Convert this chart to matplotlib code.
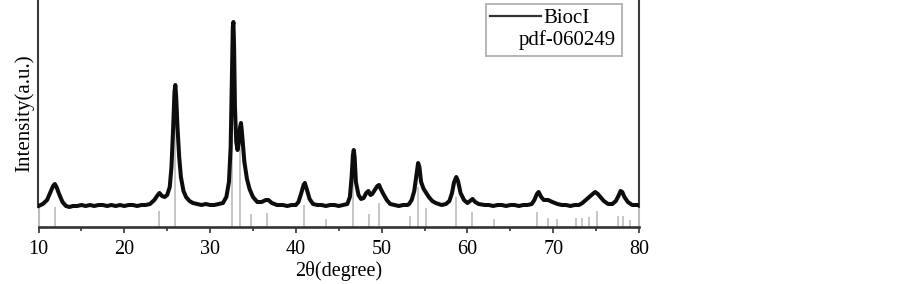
import matplotlib
matplotlib.use('Agg')
import matplotlib.pyplot as plt
from matplotlib.lines import Line2D
from matplotlib.patches import Rectangle

# ---- data (arbitrary intensity units) ----
two_theta = [10.0, 10.5, 11.0, 11.4, 11.7, 11.9, 12.1, 12.4, 12.8, 13.2, 13.6,
             14.0, 14.5, 15.0, 15.5, 16.0, 16.5, 17.0, 17.5, 18.0, 18.5, 19.0,
             19.5, 20.0, 20.5, 21.0, 21.5, 22.0, 22.5, 23.0, 23.5, 23.9, 24.1,
             24.4, 24.7, 25.0, 25.3, 25.5, 25.7, 25.85, 25.95, 26.05, 26.2, 26.4,
             26.6, 26.9, 27.2, 27.6, 28.0, 28.5, 29.0, 29.5, 30.0, 30.5, 31.0,
             31.5, 31.9, 32.2, 32.4, 32.55, 32.65, 32.72, 32.8, 32.9, 33.05,
             33.2, 33.35, 33.5, 33.6, 33.7, 33.85, 34.0, 34.3, 34.6, 35.0, 35.5,
             36.0, 36.5, 36.8, 37.2, 37.8, 38.5, 39.0, 39.5, 40.0, 40.3, 40.6,
             40.9, 41.05, 41.3, 41.6, 42.0, 42.5, 43.0, 43.5, 44.0, 44.5, 45.0,
             45.5, 46.0, 46.3, 46.5, 46.65, 46.75, 46.85, 47.0, 47.3, 47.6, 47.9,
             48.2, 48.45, 48.7, 48.9, 49.2, 49.5, 49.7, 49.9, 50.2, 50.6, 51.0,
             51.5, 52.0, 52.5, 53.0, 53.2, 53.5, 53.8, 54.05, 54.25, 54.4, 54.6,
             54.9, 55.2, 55.5, 55.9, 56.3, 57.0, 57.5, 57.9, 58.2, 58.45, 58.7,
             58.9, 59.2, 59.6, 60.0, 60.3, 60.6, 60.9, 61.3, 62.0, 62.5, 63.0,
             63.5, 64.0, 64.5, 65.0, 65.5, 66.0, 66.5, 67.0, 67.5, 67.8, 68.1,
             68.3, 68.6, 68.9, 69.4, 69.9, 70.5, 71.0, 71.5, 72.0, 72.5, 73.0,
             73.4, 73.8, 74.2, 74.6, 74.9, 75.2, 75.5, 75.9, 76.4, 76.9, 77.3,
             77.6, 77.85, 78.05, 78.3, 78.7, 79.2, 79.6, 80.0]
intensity = [21, 23, 27, 35, 41, 43, 40, 33, 25, 21, 20,
             21, 21, 22, 21, 22, 21, 22, 22, 21, 22, 21,
             22, 21, 22, 22, 21, 22, 22, 23, 27, 32, 34,
             31, 30, 32, 40, 60, 100, 135, 142, 130, 100, 70,
             50, 36, 30, 26, 24, 23, 22, 23, 22, 22, 23,
             24, 30, 45, 80, 150, 200, 205, 180, 120, 85,
             77, 85, 100, 104, 96, 80, 65, 48, 38, 30, 25,
             25, 27, 27, 24, 22, 22, 21, 22, 22, 25, 33,
             42, 44, 37, 28, 23, 22, 22, 21, 22, 22, 21,
             22, 23, 30, 50, 72, 77, 70, 45, 32, 28, 29,
             34, 36, 32, 33, 37, 41, 42, 38, 33, 27, 23,
             22, 21, 22, 22, 23, 27, 36, 52, 64, 60, 45,
             38, 34, 30, 26, 24, 22, 23, 26, 34, 45, 50,
             46, 34, 27, 24, 26, 28, 25, 23, 22, 22, 21,
             22, 22, 21, 22, 22, 21, 22, 22, 23, 27, 33,
             35, 30, 27, 27, 25, 23, 22, 22, 21, 22, 22,
             24, 27, 30, 33, 35, 33, 30, 26, 23, 23, 26,
             31, 36, 35, 30, 25, 22, 22, 22]

ref_pos = [11.98, 24.1, 25.9, 32.55, 33.5, 34.75, 36.6, 40.95, 43.5, 46.7,
           48.5, 49.75, 53.3, 54.25, 55.2, 58.65, 60.55, 63.1, 68.15, 69.4,
           70.4, 72.7, 73.4, 74.2, 75.05, 77.5, 78.1, 78.9]
ref_int = [20, 16, 142, 110, 94, 13, 14, 22, 8, 60,
           13, 24, 11, 40, 19, 30, 15, 8, 15, 9,
           8, 9, 9, 10, 16, 11, 11, 7]

major_ticks = [10, 20, 30, 40, 50, 60, 70, 80]
minor_ticks = [15, 25, 35, 45, 55, 65, 75]

sample_label = 'BiocI'
ref_label = 'pdf-060249'

# ---- figure ----
plt.rcParams['font.family'] = ['Liberation Serif', 'DejaVu Serif']
W, H = 903, 284
fig = plt.figure(figsize=(W / 100, H / 100), dpi=100)
ax = fig.add_axes([38.5 / W, 57 / H, (639 - 38.5) / W, 227 / H])

ax.vlines(ref_pos, 0, ref_int, colors='#c2c2c2', linewidth=1.3, zorder=1)
ax.plot(two_theta, intensity, color='#0d0d0d', lw=2.9, zorder=3,
        solid_joinstyle='round')

ax.set_xlim(10, 80)
ax.set_ylim(0, 227)
ax.set_xticks(major_ticks)
ax.set_xticks(minor_ticks, minor=True)
ax.set_yticks([])

ax.spines['top'].set_visible(False)
for s in ['left', 'right']:
    ax.spines[s].set_bounds(20, 227)
    ax.spines[s].set_color('#3a3a3a')
    ax.spines[s].set_linewidth(1.5)
ax.spines['bottom'].set_color('#333333')
ax.spines['bottom'].set_linewidth(1.9)
for xv in (10, 80):
    ax.axvline(xv, ymin=0, ymax=20 / 227, color='#bdbdbd', lw=1.5,
               clip_on=False, zorder=0)

ax.tick_params(axis='x', which='major', direction='out', length=4.5,
               width=1.2, color='#333333', labelsize=14.5, pad=5)
ax.tick_params(axis='x', which='minor', direction='out', length=3,
               width=1.2, color='#333333')

ax.set_xlabel('2θ(degree)', fontsize=14.5, labelpad=1.5)
ax.set_ylabel('Intensity(a.u.)', fontsize=15, labelpad=3)

# ---- legend box (drawn as in the reference) ----
def fx(px):
    return px / W

def fy(py):
    return 1 - py / H

fig.add_artist(Rectangle((fx(486), fy(56)), fx(622) - fx(486), fy(4) - fy(56),
                         transform=fig.transFigure, facecolor='white',
                         edgecolor='#b5b5b5', linewidth=1.4, zorder=5))
fig.add_artist(Line2D([fx(490), fx(541)], [fy(15.5), fy(15.5)],
                      transform=fig.transFigure, color='#333333', lw=1.6,
                      zorder=6))
fig.text(fx(543), fy(23), sample_label, fontsize=15, ha='left',
         va='baseline', zorder=6)
fig.text(fx(616), fy(45), ref_label, fontsize=15, ha='right',
         va='baseline', zorder=6)

fig.savefig('out.png', dpi=100)
